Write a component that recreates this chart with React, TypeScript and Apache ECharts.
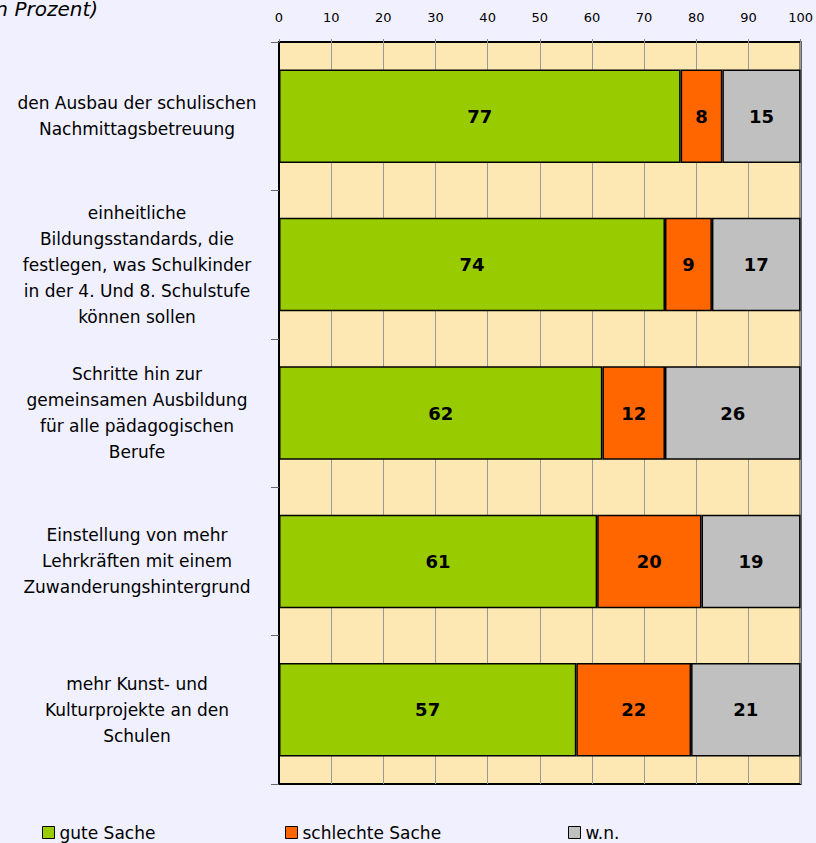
import React, { useEffect, useRef } from "react";
import * as echarts from "echarts";

const categories = [
  "den Ausbau der schulischen\nNachmittagsbetreuung",
  "einheitliche\nBildungsstandards, die\nfestlegen, was Schulkinder\nin der 4. Und 8. Schulstufe\nkönnen sollen",
  "Schritte hin zur\ngemeinsamen Ausbildung\nfür alle pädagogischen\nBerufe",
  "Einstellung von mehr\nLehrkräften mit einem\nZuwanderungshintergrund",
  "mehr Kunst- und\nKulturprojekte an den\nSchulen",
];
const gute = [77, 74, 62, 61, 57];
const schlechte = [8, 9, 12, 20, 22];
const wn = [15, 17, 26, 19, 21];
const seriesNames = ["gute Sache", "schlechte Sache", "w.n."];
const colors = ["#99CC00", "#FF6600", "#C0C0C0"];

const FONT = "'DejaVu Sans', 'Noto Sans', sans-serif";

export default function App() {
  const ref = useRef<HTMLDivElement>(null);
  useEffect(() => {
    document.body.style.margin = "0";
    const chart = echarts.init(ref.current!, null, { renderer: "svg" });
    const values = [gute, schlechte, wn];
    chart.setOption({
      animation: false,
      backgroundColor: "#F0F0FF",
      textStyle: { fontFamily: FONT },
      graphic: [
        {
          type: "text",
          left: -18,
          top: -1,
          style: {
            text: "(in Prozent)",
            fontFamily: FONT,
            fontStyle: "italic",
            fontSize: 20,
            fill: "#000",
          },
        },
      ],
      legend: seriesNames.map((n, i) => ({
        data: [n],
        left: [42, 285, 568][i],
        top: 824,
        padding: 0,
        icon: "rect",
        itemWidth: 12,
        itemHeight: 12,
        itemGap: 4,
        itemStyle: { borderColor: "#000", borderWidth: 1 },
        textStyle: { fontSize: 17, color: "#000", fontFamily: FONT, padding: [0, 0, 0, 0] },
      })),
      grid: {
        left: 279,
        right: 11,
        top: 42,
        bottom: 59,
        show: true,
        backgroundColor: "#FDE8B3",
        borderColor: "#000",
        borderWidth: 2,
      },
      xAxis: {
        type: "value",
        position: "top",
        min: 0,
        max: 100,
        interval: 10,
        axisLine: { show: false },
        axisTick: { show: true, length: 3, inside: false, lineStyle: { color: "#888" } },
        splitLine: { show: true, lineStyle: { color: "#999", width: 1 } },
        axisLabel: { fontSize: 13, color: "#000", margin: 18, fontFamily: FONT },
      },
      yAxis: {
        type: "category",
        inverse: true,
        data: categories,
        axisLine: { show: true, lineStyle: { color: "#000", width: 2 } },
        axisTick: { show: true, length: 8, lineStyle: { color: "#666" } },
        axisLabel: {
          fontSize: 17,
          color: "#000",
          align: "center",
          margin: 142,
          lineHeight: 26,
          fontFamily: FONT,
        },
      },
      series: seriesNames.map((n, i) => ({
        name: n,
        type: "bar",
        stack: "total",
        barWidth: "63%",
        data: values[i],
        itemStyle: { color: colors[i], borderColor: "#000", borderWidth: 1.5 },
        label: {
          show: true,
          position: "inside",
          fontSize: 18,
          fontWeight: "bold",
          color: "#000",
          fontFamily: FONT,
        },
      })),
    });
    return () => chart.dispose();
  }, []);
  return <div ref={ref} style={{ width: 816, height: 843 }} />;
}
